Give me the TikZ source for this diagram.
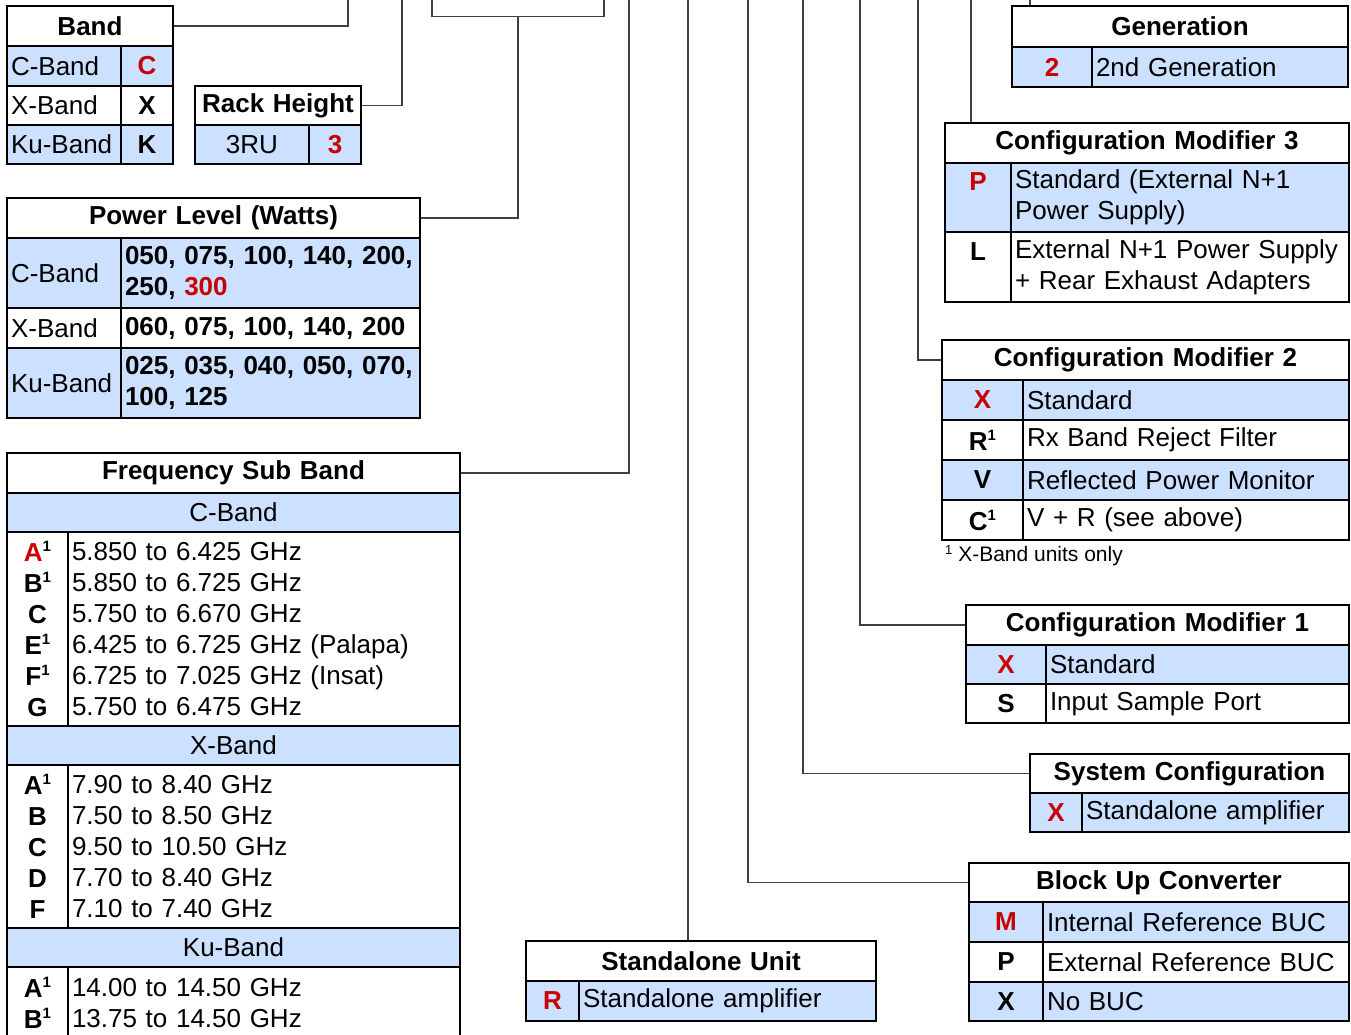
\documentclass[tikz,border=0pt]{standalone}
\usepackage{fontspec}
\setmainfont{Liberation Sans}

\definecolor{cellblue}{RGB}{204,224,255}
\definecolor{codered}{RGB}{200,0,0}
\definecolor{linkgray}{RGB}{64,64,64}

\newcommand{\tabfont}{\fontsize{26}{31}\selectfont}
\newcommand{\supone}{\raisebox{10pt}{\fontsize{15}{15}\selectfont 1}}
% one table cell: name, x, y, width, height, options, text
\newcommand{\tabcell}[7]{%
  \pgfmathsetmacro{\cellw}{#4-8}%
  \node[cellbase, minimum width=#4pt, minimum height=#5pt, text width=\cellw pt, #6] (#1) at (#2,#3) {#7};}

\begin{document}
\begin{tikzpicture}[x=1pt, y=-1pt,
    cellbase/.style={draw, line width=2pt, anchor=north west, inner xsep=4pt, inner ysep=0pt, align=left, font=\tabfont},
    hdr/.style={fill=white, align=center, font=\tabfont\bfseries},
    bluerow/.style={fill=cellblue},
    code/.style={align=center, font=\tabfont\bfseries},
    redcode/.style={code, text=codered},
    link/.style={draw=linkgray, line width=1.5pt}]
  \useasboundingbox (0,0) rectangle (1351,1034);
  \clip (0,0) rectangle (1351,1034);

  % band
  \tabcell{band-hdr}{6}{5}{166}{40}{hdr}{Band}
  \tabcell{band-c1}{6}{45}{114}{40}{bluerow}{C-Band}
  \tabcell{band-c2}{120}{45}{52}{40}{bluerow, redcode}{C}
  \tabcell{band-x1}{6}{85}{114}{39}{}{X-Band}
  \tabcell{band-x2}{120}{85}{52}{39}{code}{X}
  \tabcell{band-k1}{6}{124}{114}{39}{bluerow}{Ku-Band}
  \tabcell{band-k2}{120}{124}{52}{39}{bluerow, code}{K}

  % rack height
  \tabcell{rack-hdr}{194}{85}{166}{39}{hdr}{Rack Height}
  \tabcell{rack-u}{194}{124}{114}{39}{bluerow, align=center}{3RU}
  \tabcell{rack-n}{308}{124}{52}{39}{bluerow, redcode}{3}

  % box cut off at the top edge
  \node[link, minimum width=172pt, minimum height=40pt, anchor=south west] (topbox) at (431,17) {};

  % power level
  \tabcell{pwr-hdr}{6}{197}{413}{40}{hdr}{Power Level (Watts)}
  \tabcell{pwr-c1}{6}{237}{114}{70}{bluerow}{C-Band}
  \tabcell{pwr-c2}{120}{237}{299}{70}{bluerow, font=\tabfont\bfseries}{050, 075, 100, 140, 200,\\250, {\color{codered}300}}
  \tabcell{pwr-x1}{6}{307}{114}{40}{}{X-Band}
  \tabcell{pwr-x2}{120}{307}{299}{40}{font=\tabfont\bfseries}{060, 075, 100, 140, 200}
  \tabcell{pwr-k1}{6}{347}{114}{70}{bluerow}{Ku-Band}
  \tabcell{pwr-k2}{120}{347}{299}{70}{bluerow, font=\tabfont\bfseries}{025, 035, 040, 050, 070,\\100, 125}

  % frequency sub band
  \tabcell{frq-hdr}{6}{452}{453}{40}{hdr}{Frequency Sub Band}
  \tabcell{frq-cb}{6}{492}{453}{39}{bluerow, align=center}{C-Band}
  \tabcell{frq-c1}{6}{531}{61}{194}{code}{{\color{codered}A}\supone\\B\supone\\C\\E\supone\\F\supone\\G}
  \tabcell{frq-c2}{67}{531}{392}{194}{}{5.850 to 6.425 GHz\\5.850 to 6.725 GHz\\5.750 to 6.670 GHz\\6.425 to 6.725 GHz (Palapa)\\6.725 to 7.025 GHz (Insat)\\5.750 to 6.475 GHz}
  \tabcell{frq-xb}{6}{725}{453}{39}{bluerow, align=center}{X-Band}
  \tabcell{frq-x1}{6}{764}{61}{163}{code}{A\supone\\B\\C\\D\\F}
  \tabcell{frq-x2}{67}{764}{392}{163}{}{7.90 to 8.40 GHz\\7.50 to 8.50 GHz\\9.50 to 10.50 GHz\\7.70 to 8.40 GHz\\7.10 to 7.40 GHz}
  \tabcell{frq-kb}{6}{927}{453}{39}{bluerow, align=center}{Ku-Band}
  \tabcell{frq-k1}{6}{966}{61}{72}{code}{A\supone\\B\supone}
  \tabcell{frq-k2}{67}{966}{392}{72}{}{14.00 to 14.50 GHz\\13.75 to 14.50 GHz}

  % standalone unit
  \tabcell{sa-hdr}{525}{940}{350}{40}{hdr}{Standalone Unit}
  \tabcell{sa-k}{525}{980}{53}{40}{bluerow, redcode}{R}
  \tabcell{sa-d}{578}{980}{297}{40}{bluerow}{Standalone amplifier}

  % block up converter
  \tabcell{buc-hdr}{968}{862}{380}{39}{hdr}{Block Up Converter}
  \tabcell{buc-m1}{968}{901}{74}{40}{bluerow, redcode}{M}
  \tabcell{buc-m2}{1042}{901}{306}{40}{bluerow}{Internal Reference BUC}
  \tabcell{buc-p1}{968}{941}{74}{40}{code}{P}
  \tabcell{buc-p2}{1042}{941}{306}{40}{}{External Reference BUC}
  \tabcell{buc-x1}{968}{981}{74}{39}{bluerow, code}{X}
  \tabcell{buc-x2}{1042}{981}{306}{39}{bluerow}{No BUC}

  % system configuration
  \tabcell{sys-hdr}{1029}{753}{319}{39}{hdr}{System Configuration}
  \tabcell{sys-k}{1029}{792}{52}{39}{bluerow, redcode}{X}
  \tabcell{sys-d}{1081}{792}{267}{39}{bluerow}{Standalone amplifier}

  % configuration modifier 1
  \tabcell{cm1-hdr}{965}{604}{383}{40}{hdr}{Configuration Modifier 1}
  \tabcell{cm1-x1}{965}{644}{80}{39}{bluerow, redcode}{X}
  \tabcell{cm1-x2}{1045}{644}{303}{39}{bluerow}{Standard}
  \tabcell{cm1-s1}{965}{683}{80}{39}{code}{S}
  \tabcell{cm1-s2}{1045}{683}{303}{39}{}{Input Sample Port}

  % configuration modifier 2
  \tabcell{cm2-hdr}{941}{339}{407}{40}{hdr}{Configuration Modifier 2}
  \tabcell{cm2-x1}{941}{379}{81}{40}{bluerow, redcode}{X}
  \tabcell{cm2-x2}{1022}{379}{326}{40}{bluerow}{Standard}
  \tabcell{cm2-r1}{941}{419}{81}{40}{code}{R\supone}
  \tabcell{cm2-r2}{1022}{419}{326}{40}{}{Rx Band Reject Filter}
  \tabcell{cm2-v1}{941}{459}{81}{40}{bluerow, code}{V}
  \tabcell{cm2-v2}{1022}{459}{326}{40}{bluerow}{Reflected Power Monitor}
  \tabcell{cm2-c1}{941}{499}{81}{40}{code}{C\supone}
  \tabcell{cm2-c2}{1022}{499}{326}{40}{}{V + R (see above)}
  \node[anchor=west, inner sep=0pt, font=\fontsize{21}{25}\selectfont] (cm2-note) at (945,556)
    {\raisebox{7pt}{\fontsize{13}{13}\selectfont 1} X-Band units only};

  % configuration modifier 3 (codes sit on the first line)
  \tabcell{cm3-hdr}{944}{122}{404}{40}{hdr}{Configuration Modifier 3}
  \tabcell{cm3-p1}{944}{162}{66}{69}{bluerow, redcode}{P\\\phantom{P}}
  \tabcell{cm3-p2}{1010}{162}{338}{69}{bluerow}{Standard (External N+1\\Power Supply)}
  \tabcell{cm3-l1}{944}{231}{66}{70}{code}{L\\\phantom{L}}
  \tabcell{cm3-l2}{1010}{231}{338}{70}{}{External N+1 Power Supply\\+ Rear Exhaust Adapters}

  % generation
  \tabcell{gen-hdr}{1011}{5}{336}{41}{hdr}{Generation}
  \tabcell{gen-k}{1011}{46}{80}{40}{bluerow, redcode}{2}
  \tabcell{gen-d}{1091}{46}{256}{40}{bluerow}{2nd Generation}

  % free ends of the connectors at the top edge
  \coordinate (band-top) at (348,0);
  \coordinate (rack-top) at (402,0);
  \coordinate (frq-top) at (629,0);
  \coordinate (sa-top) at (688,0);
  \coordinate (buc-top) at (748,0);
  \coordinate (sys-top) at (803,0);
  \coordinate (cm1-top) at (860,0);
  \coordinate (cm2-top) at (918,0);
  \coordinate (cm3-top) at (971,0);
  \coordinate (gen-top) at (1030,0);

  % connectors
  \draw[link] (band-hdr.east) -| (band-top);
  \draw[link] (rack-hdr.east) -| (rack-top);
  \draw[link] (topbox.south) |- (pwr-hdr.east);
  \draw[link] (frq-top) |- (frq-hdr.east);
  \draw[link] (sa-top) -- (sa-top |- sa-hdr.north);
  \draw[link] (buc-top) |- (buc-hdr.west);
  \draw[link] (sys-top) |- (sys-hdr.west);
  \draw[link] (cm1-top) |- (cm1-hdr.west);
  \draw[link] (cm2-top) |- (cm2-hdr.west);
  \draw[link] (cm3-top) -- (cm3-top |- cm3-hdr.north);
  \draw[link] (gen-top) -- (gen-top |- gen-hdr.north);
\end{tikzpicture}
\end{document}
